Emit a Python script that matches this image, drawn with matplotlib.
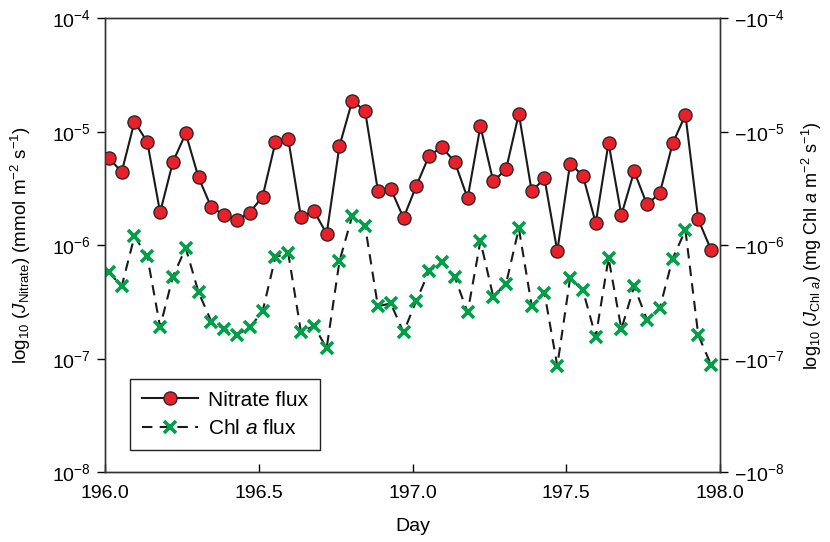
import matplotlib
matplotlib.use("Agg")
import matplotlib.pyplot as plt
from matplotlib.ticker import FixedLocator, FixedFormatter, NullLocator

plt.rcParams['font.family'] = ['Liberation Sans', 'DejaVu Sans']
plt.rcParams['mathtext.fontset'] = 'custom'
plt.rcParams['mathtext.rm'] = 'Liberation Sans'
plt.rcParams['mathtext.it'] = 'Liberation Sans:italic'
plt.rcParams['mathtext.bf'] = 'Liberation Sans:bold'

days = [196.0125, 196.0542, 196.0958, 196.1375, 196.1792, 196.2208, 196.2625, 196.3042,
        196.3458, 196.3875, 196.4292, 196.4708, 196.5125, 196.5542, 196.5958, 196.6375,
        196.6792, 196.7208, 196.7625, 196.8042, 196.8458, 196.8875, 196.9292, 196.9708,
        197.0125, 197.0542, 197.0958, 197.1375, 197.1792, 197.2208, 197.2625, 197.3042,
        197.3458, 197.3875, 197.4292, 197.4708, 197.5125, 197.5542, 197.5958, 197.6375,
        197.6792, 197.7208, 197.7625, 197.8042, 197.8458, 197.8875, 197.9292, 197.9708]

nitrate = [5.93e-6, 4.41e-6, 1.225e-5, 8.14e-6, 1.95e-6, 5.42e-6, 9.68e-6, 3.96e-6,
           2.16e-6, 1.86e-6, 1.67e-6, 1.94e-6, 2.69e-6, 8.09e-6, 8.67e-6, 1.76e-6,
           2.02e-6, 1.26e-6, 7.51e-6, 1.88e-5, 1.53e-5, 3.02e-6, 3.15e-6, 1.74e-6,
           3.35e-6, 6.18e-6, 7.31e-6, 5.42e-6, 2.60e-6, 1.12e-5, 3.66e-6, 4.67e-6,
           1.44e-5, 3.00e-6, 3.88e-6, 8.89e-7, 5.25e-6, 4.10e-6, 1.57e-6, 7.98e-6,
           1.85e-6, 4.48e-6, 2.29e-6, 2.88e-6, 7.89e-6, 1.41e-5, 1.69e-6, 9.12e-7]

chl = [5.80e-7, 4.34e-7, 1.20e-6, 8.0e-7, 1.91e-7, 5.31e-7, 9.46e-7, 3.86e-7,
       2.13e-7, 1.83e-7, 1.63e-7, 1.89e-7, 2.62e-7, 7.88e-7, 8.55e-7, 1.71e-7,
       1.95e-7, 1.24e-7, 7.26e-7, 1.82e-6, 1.48e-6, 2.90e-7, 3.08e-7, 1.71e-7,
       3.26e-7, 5.92e-7, 7.11e-7, 5.24e-7, 2.56e-7, 1.09e-6, 3.53e-7, 4.58e-7,
       1.41e-6, 2.94e-7, 3.78e-7, 8.67e-8, 5.13e-7, 4.01e-7, 1.56e-7, 7.71e-7,
       1.83e-7, 4.34e-7, 2.21e-7, 2.80e-7, 7.62e-7, 1.36e-6, 1.62e-7, 8.85e-8]

x_ticks = [196.0, 196.5, 197.0, 197.5, 198.0]
x_tick_labels = ['196.0', '196.5', '197.0', '197.5', '198.0']
y_ticks = [1e-8, 1e-7, 1e-6, 1e-5, 1e-4]
y_left_labels = [r'$10^{-8}$', r'$10^{-7}$', r'$10^{-6}$', r'$10^{-5}$', r'$10^{-4}$']
y_right_labels = [r'$-10^{-8}$', r'$-10^{-7}$', r'$-10^{-6}$', r'$-10^{-5}$', r'$-10^{-4}$']

fig = plt.figure(figsize=(8.3, 5.42), dpi=100)
ax = fig.add_axes([0.1265, 0.1286, 0.741, 0.8376])

red = '#e8202a'
green = '#00a04a'

ax.plot(days, nitrate, '-', color='#1a1a1a', lw=1.5, marker='o', ms=9.5,
        mfc=red, mec='#222222', mew=0.9, label='Nitrate flux', zorder=3)
ax.plot(days, chl, color='#1a1a1a', lw=1.5, ls=(0, (5, 3.5)), marker='x', ms=8.5,
        mec=green, mew=2.6, label=r'Chl $a$ flux', zorder=3)

ax.set_yscale('log')
ax.set_xlim(196.0, 198.0)
ax.set_ylim(1e-8, 1e-4)
ax.xaxis.set_major_locator(FixedLocator(x_ticks))
ax.xaxis.set_major_formatter(FixedFormatter(x_tick_labels))
ax.yaxis.set_major_locator(FixedLocator(y_ticks))
ax.yaxis.set_major_formatter(FixedFormatter(y_left_labels))
ax.yaxis.set_minor_locator(NullLocator())
ax.xaxis.set_minor_locator(NullLocator())

ax.tick_params(axis='x', direction='in', length=6, width=1, labelsize=14, pad=9)
ax.tick_params(axis='y', direction='out', length=6, width=1, labelsize=14, pad=4)
for s in ax.spines.values():
    s.set_linewidth(1.0)
    s.set_color('#333333')

ax.set_xlabel('Day', fontsize=14, labelpad=12)
ax.set_ylabel(r'log$_{10}$ ($J_{\mathrm{Nitrate}}$) (mmol m$^{-2}$ s$^{-1}$)', fontsize=13.5, labelpad=14)

ax2 = ax.twinx()
ax2.set_yscale('log')
ax2.set_ylim(1e-8, 1e-4)
ax2.yaxis.set_major_locator(FixedLocator(y_ticks))
ax2.yaxis.set_major_formatter(FixedFormatter(y_right_labels))
ax2.yaxis.set_minor_locator(NullLocator())
ax2.tick_params(axis='y', direction='out', length=6, width=1, labelsize=14, pad=4)
for s in ax2.spines.values():
    s.set_linewidth(1.0)
    s.set_color('#333333')
ax2.set_ylabel(r'log$_{10}$ ($J_{\mathrm{Chl}\ a}$) (mg Chl $a$ m$^{-2}$ s$^{-1}$)', fontsize=13,
               rotation=90, labelpad=11)

leg = ax.legend(loc='upper left', bbox_to_anchor=(0.041, 0.205), borderaxespad=0,
                fontsize=15, frameon=True, fancybox=False, edgecolor='#222222', framealpha=1,
                handlelength=2.7, borderpad=0.55, labelspacing=0.45, handletextpad=0.5)
leg.get_frame().set_linewidth(1.0)

fig.savefig('out.png', dpi=100)
